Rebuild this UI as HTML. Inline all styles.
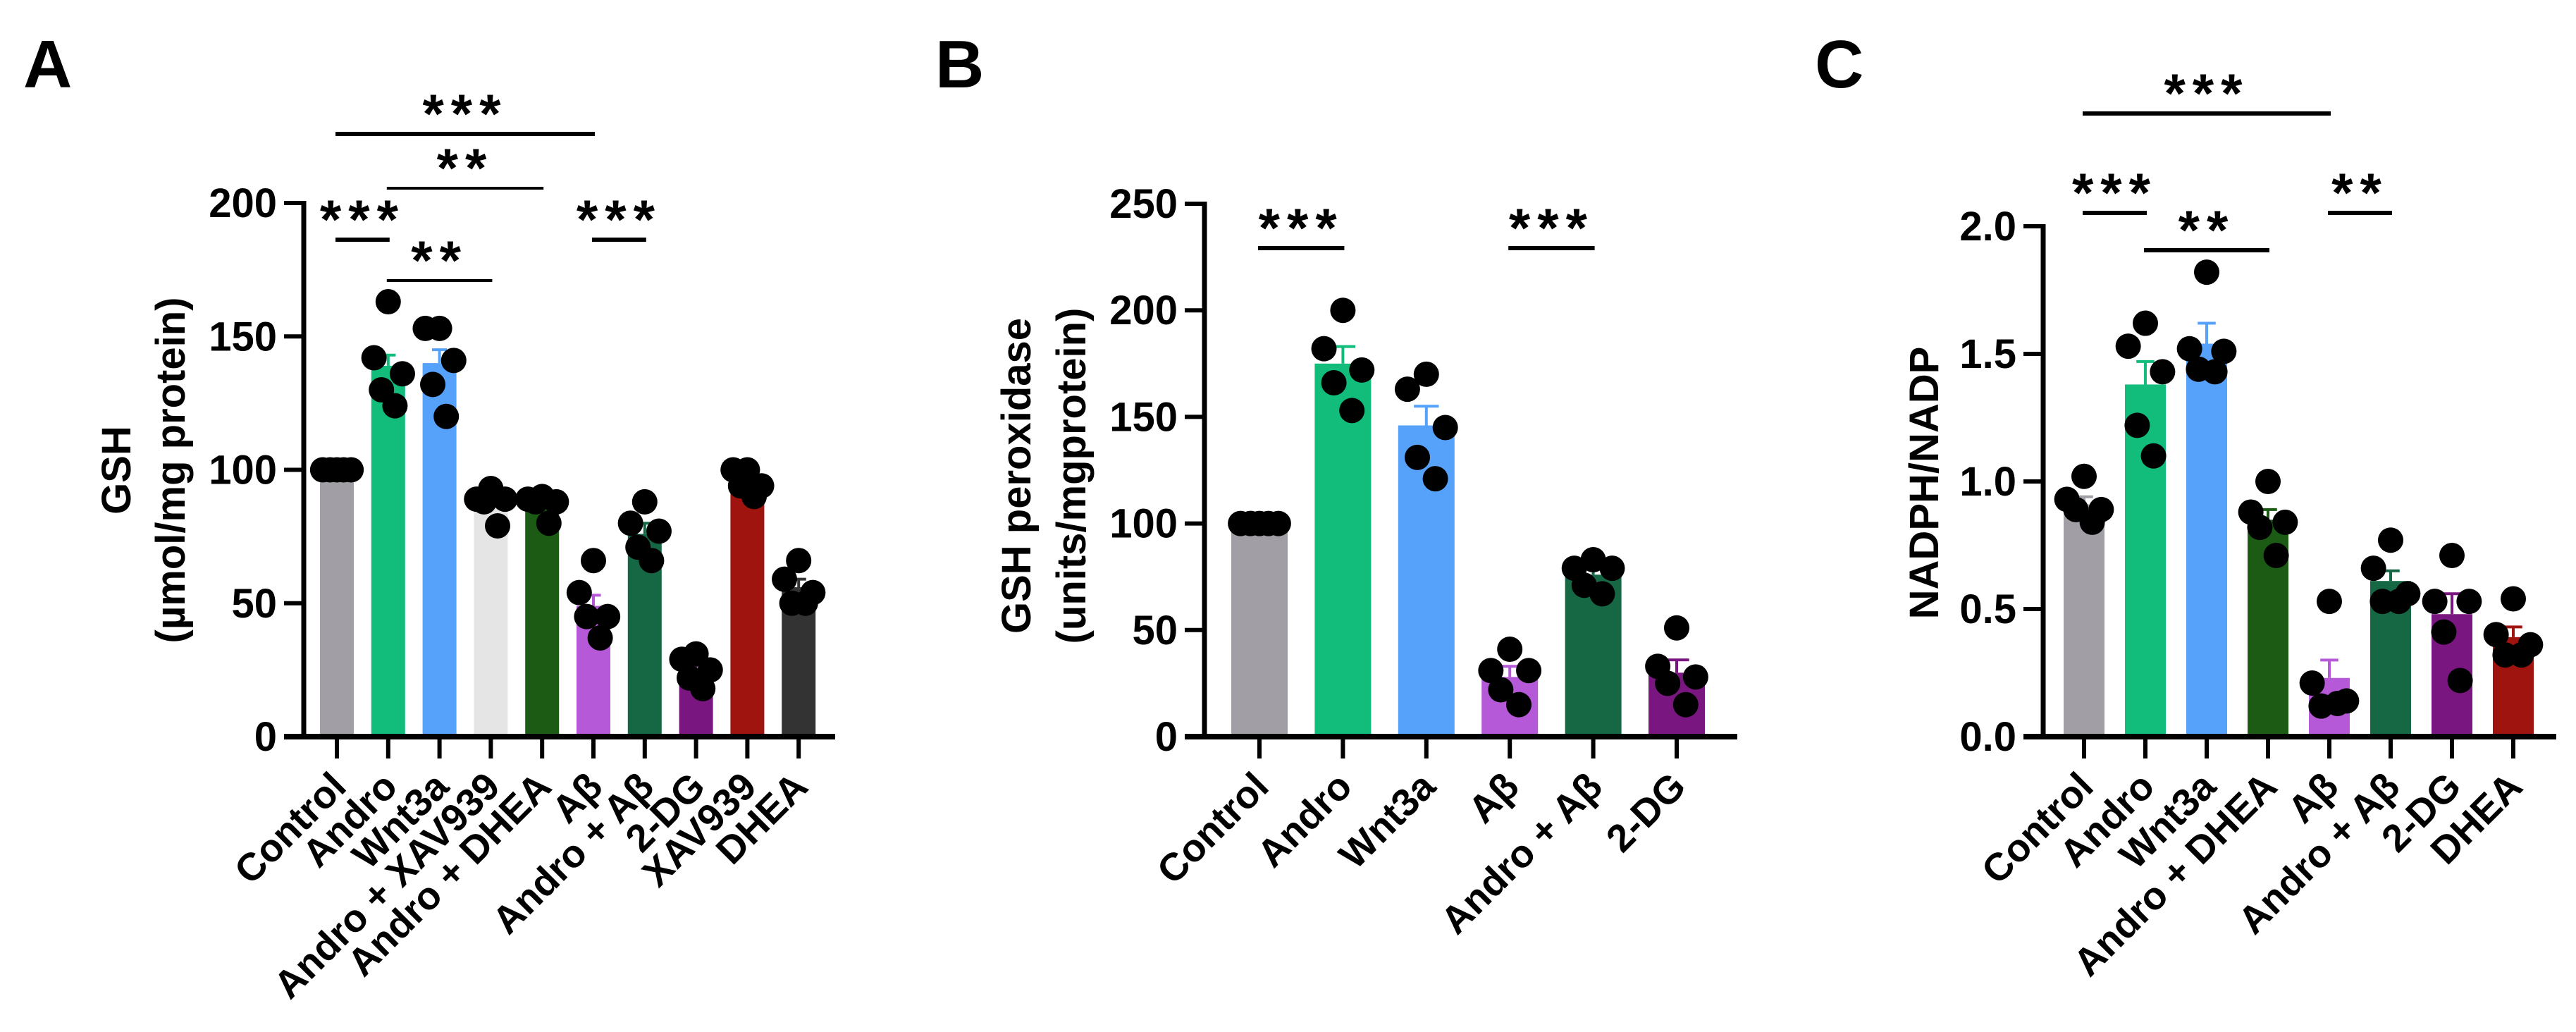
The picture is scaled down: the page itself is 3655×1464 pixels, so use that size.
<!DOCTYPE html>
<html><head><meta charset="utf-8"><style>
html,body{margin:0;padding:0;background:#fff;}
svg{display:block;}
text{font-family:"Liberation Sans",Arial,sans-serif;font-weight:bold;fill:#000;}
</style></head><body>
<svg id="fig" width="3655" height="1464" viewBox="0 0 3655 1464" xmlns="http://www.w3.org/2000/svg"></svg>
<script>
// Panel A data
const catsA = ["Control","Andro","Wnt3a","Andro + XAV939","Andro + DHEA","Aβ","Andro + Aβ","2-DG","XAV939","DHEA"];
const meansA = [100,139,140,88,87,49,76,25,96,56];
const semA = [0.5,4,5,2.5,2,4,4,2.5,2,3];
const ptsA = [[100,100,100,100,100],[163,142,136,130,124],[153,153,141,132,120],[93,89,89,88,79],[90,89,88,88,80],[66,54,45,45,37],[88,80,77,71,66],[31,29,25,22,18],[100,100,94,94,90],[66,59,54,50,50]];
const ticksA = [0,50,100,150,200];
// Panel B data
const catsB = ["Control","Andro","Wnt3a","Aβ","Andro + Aβ","2-DG"];
const meansB = [100,175,146,28,76,30];
const semB = [0.5,8,9,5,3,6];
const ptsB = [[100,100,100,100,100],[200,182,172,166,153],[170,163,145,131,121],[41,31,31,22,15],[83,79,79,71,67],[51,33,28,25,15]];
const ticksB = [0,50,100,150,200,250];
// Panel C data
const catsC = ["Control","Andro","Wnt3a","Andro + DHEA","Aβ","Andro + Aβ","2-DG","DHEA"];
const meansC = [0.91,1.38,1.54,0.85,0.23,0.61,0.48,0.39];
const semC = [0.03,0.09,0.08,0.04,0.07,0.04,0.08,0.04];
const ptsC = [[1.02,0.93,0.89,0.89,0.84],[1.62,1.53,1.43,1.22,1.10],[1.82,1.52,1.51,1.44,1.43],[1.00,0.88,0.84,0.82,0.71],[0.53,0.21,0.14,0.12,0.13],[0.77,0.66,0.56,0.53,0.53],[0.71,0.53,0.53,0.41,0.22],[0.54,0.40,0.36,0.32,0.32]];
const ticksC = [0,0.5,1.0,1.5,2.0];
const tickLabC = ["0.0","0.5","1.0","1.5","2.0"];
// significance brackets: [from index, to index, label, level]
const sigA = [[0,5,"***",0],[1,4,"**",1],[0,1,"***",2],[1,3,"**",3],[5,6,"***",2]];
const sigB = [[0,1,"***",0],[3,4,"***",0]];
const sigC = [[0,4,"***",0],[0,1,"***",1],[1,3,"**",2],[4,5,"**",1]];

const NS="http://www.w3.org/2000/svg";
const svg=document.getElementById('fig');
function el(tag,attrs,parent){const e=document.createElementNS(NS,tag);for(const k in attrs)e.setAttribute(k,attrs[k]);(parent||svg).appendChild(e);return e;}

function panel(cfg){
  const g=el('g',{});
  
  
  const y=v=>cfg.y0-(v-cfg.ymin)/(cfg.ymax-cfg.ymin)*(cfg.y0-cfg.ytop);
  const x=i=>cfg.x0+i*cfg.step;
  const L=el('text',{x:cfg.letterX,y:124,'font-size':96},g);L.textContent=cfg.letter;
  
  
  cfg.cats.forEach((c,i)=>{
    const bx=x(i);
    const b=el('rect',{x:bx-cfg.bw/2,y:y(cfg.means[i]),width:cfg.bw,height:cfg.y0-y(cfg.means[i]),fill:cfg.colors[i]},g);
    
    
    const ec=cfg.colors[i];
    const et=y(cfg.means[i]+cfg.sem[i]);
    const e1=el('line',{x1:bx,x2:bx,y1:y(cfg.means[i]),y2:et,stroke:ec,'stroke-width':4},g);
    
    
    el('line',{x1:bx-cfg.bw*0.22,x2:bx+cfg.bw*0.22,y1:et,y2:et,stroke:ec,'stroke-width':4},g);
  });
  const ya=el('line',{x1:cfg.ax,x2:cfg.ax,y1:cfg.ytop-3,y2:cfg.y0+4,stroke:'#000','stroke-width':7},g);
  
  
  const xa=el('line',{x1:cfg.ax-28,x2:cfg.xend,y1:cfg.y0,y2:cfg.y0,stroke:'#000','stroke-width':8},g);
  
  
  cfg.ticks.forEach((t,k)=>{
    el('line',{x1:cfg.ax-28,x2:cfg.ax,y1:y(t),y2:y(t),stroke:'#000','stroke-width':6},g);
    const tl=el('text',{x:cfg.ax-38,y:y(t)+20,'font-size':58,'text-anchor':'end'},g);
    tl.textContent=cfg.tickLab?cfg.tickLab[k]:String(t);
    
    
  });
  cfg.cats.forEach((c,i)=>{
    el('line',{x1:x(i),x2:x(i),y1:cfg.y0,y2:cfg.y0+31,stroke:'#000','stroke-width':6},g);
    const tx=x(i)+16, ty=cfg.y0+74;
    const t=el('text',{x:tx,y:ty,'font-size':55,'text-anchor':'end',transform:`rotate(-45 ${tx} ${ty})`},g);
    t.textContent=c;
    
    
  });
  const offs=[0,-0.42,0.42,-0.2,0.2];
  cfg.pts.forEach((arr,i)=>{
    arr.forEach((v,j)=>{
      const d=el('circle',{cx:x(i)+offs[j]*cfg.bw*(cfg.dotSpread||1),cy:y(v),r:18,fill:'#000'},g);
      
      
    });
  });
  cfg.ytitle.forEach((s,k)=>{
    const tx=cfg.ytx[k], ty=cfg.yty;
    const t=el('text',{x:tx,y:ty,'font-size':58,'text-anchor':'middle',transform:`rotate(-90 ${tx} ${ty})`},g);
    t.textContent=s;
    
    
  });
  cfg.sig.forEach(s=>{
    const ly=cfg.sigY[s[3]];
    const l=el('line',{x1:x(s[0])-2,x2:x(s[1])+2,y1:ly,y2:ly,stroke:'#000','stroke-width':cfg.sigW?cfg.sigW[s[3]]:6},g);
    
    
    const t=el('text',{x:(x(s[0])+x(s[1]))/2,y:ly-2,'font-size':78,'text-anchor':'middle','letter-spacing':10},g);
    t.textContent=s[2];
    
    
  });
}

panel({name:'panel-a-gsh',letter:'A',letterX:33,cats:catsA,means:meansA,sem:semA,pts:ptsA,ticks:ticksA,
  ymin:0,ymax:200,y0:1045,ytop:288,ax:431,xend:1185,x0:478,step:72.8,bw:48,
  colors:['#a19fa5','#12bd7b','#56a1f9','#e5e5e5','#1b5b14','#b659d8','#166845','#7a1680','#a0140f','#333333'],
  ytitle:['GSH','(µmol/mg protein)'],ytx:[185,262],yty:667,
  sig:sigA,sigY:[190,267,340,398],sigW:[6,4,6,4]});
panel({name:'panel-b-gsh-peroxidase',letter:'B',letterX:1327,cats:catsB,means:meansB,sem:semB,pts:ptsB,ticks:ticksB,
  ymin:0,ymax:250,y0:1045,ytop:289,ax:1709,xend:2465,x0:1787,step:118.4,bw:80,dotSpread:0.8,
  colors:['#a19fa5','#12bd7b','#56a1f9','#b659d8','#166845','#7a1680'],
  ytitle:['GSH peroxidase','(units/mgprotein)'],ytx:[1462,1540],yty:675,
  sig:sigB,sigY:[352]});
panel({name:'panel-c-nadph-nadp',letter:'C',letterX:2575,cats:catsC,means:meansC,sem:semC,pts:ptsC,ticks:ticksC,tickLab:tickLabC,
  ymin:0,ymax:2,y0:1045,ytop:321,ax:2899,xend:3627,x0:2957,step:87,bw:58,
  colors:['#a19fa5','#12bd7b','#56a1f9','#1b5b14','#b659d8','#166845','#7a1680','#a0140f'],
  ytitle:['NADPH/NADP'],ytx:[2750],yty:685,
  sig:sigC,sigY:[161,302,355]});
</script>
</body></html>
